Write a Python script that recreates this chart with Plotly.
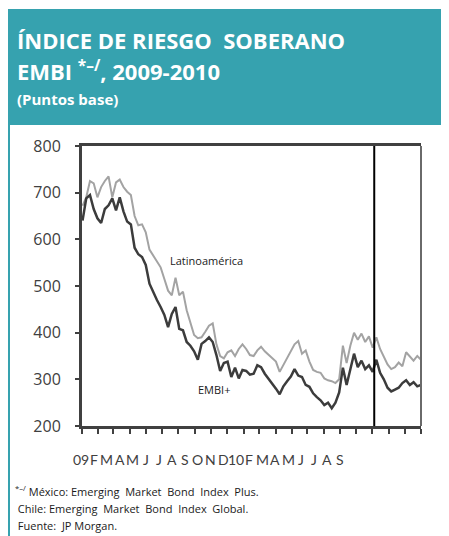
import pandas as pd
import plotly.graph_objects as go

# weekly readings, Jan 2009 - Sep 2010 (basis points)
start_date = "2009-01-02"
latam = [
    672, 690, 725, 720, 690, 712, 725, 735, 690, 722,
    728, 712, 702, 695, 650, 630, 632, 615, 578, 565,
    552, 540, 515, 490, 480, 518, 480, 488, 448, 420,
    395, 388, 390, 402, 415, 420, 375, 350, 345, 358,
    362, 350, 365, 375, 365, 352, 350, 362, 370, 360,
    352, 345, 338, 316, 330, 345, 358, 375, 382, 355,
    362, 338, 320, 316, 314, 302, 298, 296, 292, 300,
    372, 335, 372, 400, 385, 398, 380, 392, 368, 390,
    365, 350, 332, 322, 326, 336, 328, 358, 350, 340,
    350, 342,
]
embi = [
    640, 688, 695, 665, 645, 635, 665, 673, 688, 662,
    690, 660, 638, 632, 582, 568, 562, 545, 505, 486,
    470, 455, 438, 412, 440, 455, 408, 405, 380, 372,
    360, 342, 376, 382, 390, 380, 352, 318, 335, 338,
    305, 325, 302, 320, 318, 310, 312, 330, 326, 312,
    302, 292, 280, 268, 285, 296, 306, 322, 308, 305,
    288, 284, 270, 262, 255, 245, 250, 238, 250, 272,
    325, 288, 320, 355, 326, 340, 322, 330, 316, 342,
    314, 300, 282, 274, 278, 282, 292, 298, 288, 294,
    285, 288,
]
month_labels = ["09", "F", "M", "A", "M", "J", "J", "A", "S", "O", "N", "D",
                "10", "F", "M", "A", "M", "J", "J", "A", "S"]
marker_date = "2010-07-05"

dates = pd.date_range(start_date, periods=len(latam), freq="7D")

TEAL = "#36a2af"
AXIS = "#404040"
FONT = "Open Sans, Lato, sans-serif"

# the page puts an 8px body margin around the figure, so the figure is
# 441x528 and the plot area sits at page pixels x 82..421, y 146..426
def px(x):
    return (x - 82) / 339


def py(y):
    return (426 - y) / 280


fig = go.Figure()
fig.add_trace(go.Scatter(
    x=dates, y=latam, mode="lines", name="Latinoamérica",
    line=dict(color="#a3a3a3", width=2),
))
fig.add_trace(go.Scatter(
    x=dates, y=embi, mode="lines", name="EMBI+",
    line=dict(color="#3c3c3c", width=2.5),
))

shapes = [
    # teal header band and left border
    dict(type="rect", xref="paper", yref="paper", x0=px(8), x1=px(449), y0=py(125), y1=py(9),
         fillcolor=TEAL, line_width=0, layer="below"),
    dict(type="rect", xref="paper", yref="paper", x0=px(8), x1=px(10), y0=py(536), y1=py(9),
         fillcolor=TEAL, line_width=0, layer="below"),
    # right border of the plot frame
    dict(type="line", xref="paper", yref="paper", x0=1, x1=1, y0=0, y1=1,
         line=dict(color="#6a6a6a", width=2)),
    # vertical marker
    dict(type="line", xref="x", yref="y", x0=marker_date, x1=marker_date, y0=200, y1=800,
         line=dict(color="#000000", width=2)),
]

annotations = [
    dict(text="<b>ÍNDICE DE RIESGO  SOBERANO</b>", x=px(15), y=py(40)),
    dict(text="<b>EMBI <sup>*–/</sup>, 2009-2010</b>", x=px(15), y=py(70)),
    dict(text="<b>(Puntos base)</b>", x=px(15), y=py(99), font=dict(size=15, color="white", family=FONT)),
]
for a in annotations:
    a.setdefault("font", dict(size=22, color="white", family=FONT))
    a.update(xref="paper", yref="paper", xanchor="left", yanchor="middle", showarrow=False)

annotations += [
    dict(text="Latinoamérica", x="2009-08-23", y=554, xref="x", yref="y", showarrow=False,
         font=dict(size=11, color="#1a1a1a", family=FONT)),
    dict(text="EMBI+", x="2009-09-06", y=278, xref="x", yref="y", showarrow=False,
         font=dict(size=11, color="#1a1a1a", family=FONT)),
]

# month letters sit in an evenly spaced row under the axis, narrower than the axis itself
for i, lab in enumerate(month_labels):
    annotations.append(dict(text=lab, x=px(81 + 12.95 * i), y=py(459), xref="paper", yref="paper",
                            xanchor="center", yanchor="middle", showarrow=False,
                            font=dict(size=14, color=AXIS, family="Lato, Open Sans, sans-serif")))

foot = [
    "<sup>*–/</sup> México: Emerging  Market  Bond  Index  Plus.",
    " Chile: Emerging  Market  Bond  Index  Global.",
    " Fuente:  JP Morgan.",
]
for text, yy in zip(foot, [491, 508, 525]):
    annotations.append(dict(text=text, x=px(13), y=py(yy), xref="paper", yref="paper",
                            xanchor="left", yanchor="middle", showarrow=False,
                            font=dict(size=11, color="#1a1a1a", family=FONT)))

fig.update_layout(
    width=441, height=528,
    margin=dict(l=74, r=28, t=138, b=110),
    paper_bgcolor="white", plot_bgcolor="white",
    showlegend=False,
    shapes=shapes,
    annotations=annotations,
    xaxis=dict(
        type="date", range=["2009-01-01", "2010-10-01"],
        tick0="2009-01-01", dtick="M1", ticks="outside", ticklen=5, tickwidth=1.5,
        tickcolor=AXIS, showticklabels=False, showgrid=False, zeroline=False,
        showline=True, linecolor=AXIS, linewidth=2.5, mirror=True,
    ),
    yaxis=dict(
        range=[200, 800], dtick=100, ticks="outside", ticklen=4, tickwidth=1.5,
        tickcolor=AXIS, showgrid=False, zeroline=False,
        showline=True, linecolor=AXIS, linewidth=3,
        tickfont=dict(size=16, color=AXIS, family=FONT), ticklabelstandoff=11,
    ),
)

fig.write_html("out.html")
